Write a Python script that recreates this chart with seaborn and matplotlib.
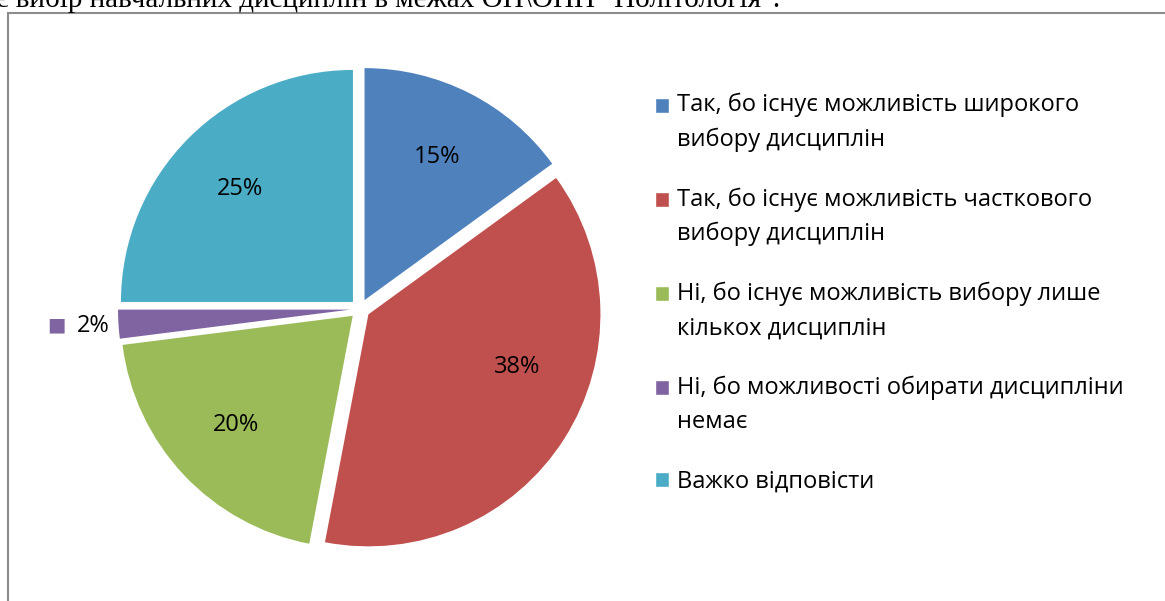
import matplotlib
matplotlib.use("Agg")
import matplotlib.pyplot as plt
import numpy as np
import seaborn as sns
from matplotlib.legend_handler import HandlerPatch
from matplotlib.patches import Rectangle

categories = [
    "Так, бо існує можливість широкого\nвибору дисциплін",
    "Так, бо існує можливість часткового\nвибору дисциплін",
    "Ні, бо існує можливість вибору лише\nкількох дисциплін",
    "Ні, бо можливості обирати дисципліни\nнемає",
    "Важко відповісти",
]
shares = [15, 38, 20, 2, 25]
colors = ["#4F81BD", "#C0504D", "#9BBB59", "#8064A2", "#4BACC6"]
caption = 'є вибір навчальних дисциплін в межах ОП\\ОПП "Політологія".'

sns.set_theme(style="white")
plt.rcParams["font.family"] = ["Open Sans", "DejaVu Sans"]

FS = 17
LS = 1.56
fig = plt.figure(figsize=(11.65, 6.01), dpi=100)
fig.patch.set_facecolor("white")

# pie centre ~ (360, 309) px, radius ~232 px
R, cx, cy = 232, 360, 601 - 309
half = 1.15 * R
ax = fig.add_axes([(cx - half) / 1165, (cy - half) / 601, 2 * half / 1165, 2 * half / 601])

wedges, texts, autotexts = ax.pie(
    shares,
    colors=sns.color_palette(colors),
    startangle=90,
    counterclock=False,
    explode=[0.043] * len(shares),
    autopct="%d%%",
    pctdistance=0.69,
    textprops={"fontsize": FS, "color": "black"},
    wedgeprops={"linewidth": 0},
)
ax.set_xlim(-1.15, 1.15)
ax.set_ylim(-1.15, 1.15)
ax.set_aspect("equal")
ax.axis("off")


def place(i, r, turn=0.0):
    w = wedges[i]
    a = np.deg2rad((w.theta1 + w.theta2) / 2 + turn)
    x0, y0 = w.center
    p = (x0 + r * np.cos(a), y0 + r * np.sin(a))
    autotexts[i].set_position(p)
    return p


# the big slice's label sits a bit higher, as in the original
place(1, 0.68, turn=13)
# small slice: label outside, with a colour key
pos = place(3, 1.11)
ax.annotate("■", xy=pos, xytext=(-26, 0), textcoords="offset points",
            ha="center", va="center", color=colors[3], fontsize=FS - 3)


# legend keys sit on the first line of wrapped labels
nlines = {}


def top_square(legend, orig_handle, xdescent, ydescent, width, height, fontsize):
    shift = 0.5 * (nlines[orig_handle] - 1) * fontsize * LS * 0.98
    return Rectangle((-xdescent, -ydescent + shift), width, height)


handles = []
for c, lab in zip(colors, categories):
    h = Rectangle((0, 0), 1, 1, facecolor=c)
    nlines[h] = lab.count("\n") + 1
    handles.append(h)

leg = fig.legend(
    handles, categories,
    loc="upper left", bbox_to_anchor=(655 / 1165, 1 - 93 / 601),
    frameon=False, fontsize=FS, borderpad=0, borderaxespad=0, labelcolor="black",
    handlelength=0.6, handleheight=0.6, handletextpad=0.35, labelspacing=1.5,
    handler_map={Rectangle: HandlerPatch(patch_func=top_square)},
)
for t in leg.get_texts():
    t.set_linespacing(LS)

# chart border and the cut-off caption above it
fig.patches.append(Rectangle((8 / 1165, -0.1), 1.2, 1.1 - 13 / 601, transform=fig.transFigure,
                             fill=False, edgecolor="#8c8c8c", linewidth=1.5))
fig.text(-4 / 1165, 1 - 7 / 601, caption, ha="left", va="baseline",
         family="Liberation Serif", fontsize=21, color="black")

fig.savefig("out.png", dpi=100)
